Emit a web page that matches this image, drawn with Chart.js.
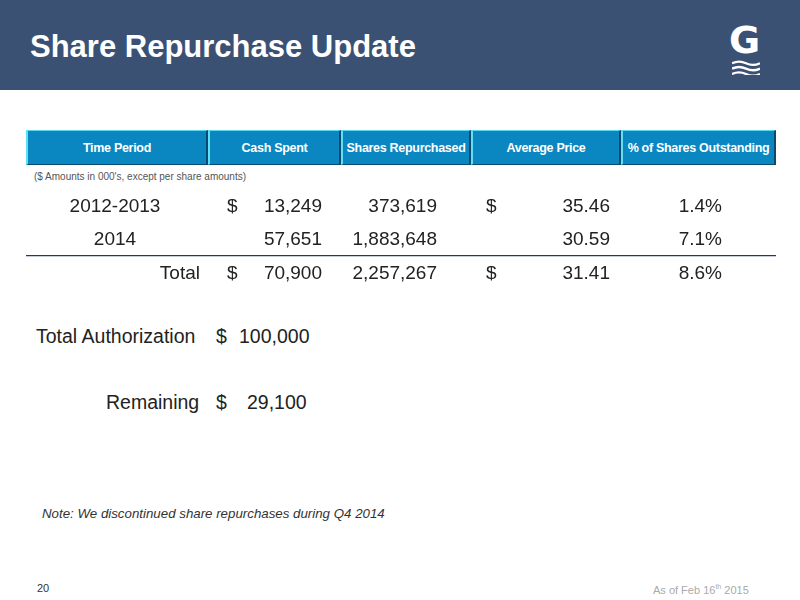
<!DOCTYPE html>
<html>
<head>
<meta charset="utf-8">
<script src="https://cdn.jsdelivr.net/npm/chart.js@4.4.1/dist/chart.umd.min.js"></script>
<style>
body { margin:0; width:800px; height:600px; position:relative; background:#fff; font-family:"Liberation Sans", Arial, sans-serif; overflow:hidden; }
.bar { position:absolute; left:0; top:0; width:800px; height:90px; background:#3b5173; }
.title { position:absolute; left:30px; top:29px; color:#fff; font-size:31px; font-weight:bold; }
.logo { position:absolute; left:729px; top:18px; color:#fff; font-size:38px; font-weight:bold; font-family:"DejaVu Sans"; }
.waves { position:absolute; left:732px; top:60px; width:28px; }
.hdr { position:absolute; top:130px; height:35px; display:flex; left:26px; }
.hdr div { background:#0a87c0; color:#fff; font-weight:bold; font-size:12.5px; letter-spacing:-0.3px; white-space:nowrap; display:flex; align-items:center; justify-content:center;
  box-sizing:border-box; border-left:2px solid #5fe0f5; border-top:1px solid #5fd6f0; border-right:2px solid #0a4a70; border-bottom:1px solid #0a4a70; }
.txt { position:absolute; font-size:19.5px; color:#222; }
.small { position:absolute; left:34px; top:171px; font-size:10px; color:#555; }
#wrap { position:absolute; left:26px; top:190px; width:750px; height:100px; }
</style>
</head>
<body>
<div class="bar"></div>
<div class="title">Share Repurchase Update</div>
<div class="logo">G</div>
<svg class="waves" viewBox="0 0 26 14"><path d="M0 3 Q6.5 0 13 3 T26 3 M0 8 Q6.5 5 13 8 T26 8 M0 13 Q6.5 10 13 13 T26 13" stroke="#fff" stroke-width="2.2" fill="none"/></svg>
<div class="hdr">
  <div style="width:182px">Time Period</div>
  <div style="width:133px">Cash Spent</div>
  <div style="width:130px">Shares Repurchased</div>
  <div style="width:150px">Average Price</div>
  <div style="width:155px">% of Shares Outstanding</div>
</div>
<div class="small">($ Amounts in 000's, except per share amounts)</div>
<div id="wrap"><canvas id="tbl"></canvas></div>
<div class="txt" style="left:36px;top:325px">Total Authorization</div>
<div class="txt" style="left:216px;top:325px">$</div>
<div class="txt" style="left:239px;top:325px">100,000</div>
<div class="txt" style="left:106px;top:391px">Remaining</div>
<div class="txt" style="left:216px;top:391px">$</div>
<div class="txt" style="left:247px;top:391px">29,100</div>
<div class="txt" style="left:42px;top:506px;font-size:13.3px;font-style:italic;color:#333">Note: We discontinued share repurchases during Q4 2014</div>
<div class="txt" style="left:37px;top:582px;font-size:11px;color:#333">20</div>
<div class="txt" style="left:653px;top:583px;font-size:11px;color:#aaa">As of Feb 16<sup style="font-size:7px">th</sup> 2015</div>
<script>
const columns = ['Time Period', 'Cash Spent', 'Shares Repurchased', 'Average Price', '% of Shares Outstanding'];
const rows = ['2012-2013', '2014', 'Total'];
const cashSpent = [13249, 57651, 70900];
const sharesRepurchased = [373619, 1883648, 2257267];
const averagePrice = [35.46, 30.59, 31.41];
const pctOutstanding = [1.4, 7.1, 8.6];
const showDollar = [true, false, true];

const fmt = n => n.toLocaleString('en-US');

const tablePlugin = {
  id: 'tableCells',
  afterDraw(chart) {
    const ctx = chart.ctx, xs = chart.scales.x, ys = chart.scales.y;
    ctx.save();
    ctx.font = '19px "Liberation Sans", Arial, sans-serif';
    ctx.fillStyle = '#222';
    ctx.textBaseline = 'middle';
    const cx = i => xs.getPixelForValue(i);
    rows.forEach((r, i) => {
      const y = ys.getPixelForValue(i);
      if (r === 'Total') { ctx.textAlign = 'right'; ctx.fillText(r, cx(0) + 99, y); }
      else { ctx.textAlign = 'center'; ctx.fillText(r, cx(0) + 14, y); }
      ctx.textAlign = 'left';
      if (showDollar[i]) { ctx.fillText('$', cx(1) - 24, y); ctx.fillText('$', cx(3) - 65, y); }
      ctx.textAlign = 'right';
      ctx.fillText(fmt(cashSpent[i]), cx(1) + 71, y);
      ctx.fillText(fmt(sharesRepurchased[i]), cx(2) + 36, y);
      ctx.fillText(averagePrice[i].toFixed(2), cx(3) + 59, y);
      ctx.fillText(pctOutstanding[i].toFixed(1) + '%', cx(4) + 21, y);
    });
    // rule above the Total row
    const yl = (ys.getPixelForValue(1) + ys.getPixelForValue(2)) / 2 - 1;
    ctx.strokeStyle = '#1f3a66';
    ctx.lineWidth = 1.2;
    ctx.beginPath(); ctx.moveTo(chart.chartArea.left - 8, yl); ctx.lineTo(chart.chartArea.right, yl); ctx.stroke();
    ctx.restore();
  }
};

new Chart(document.getElementById('tbl'), {
  type: 'bar',
  data: { labels: columns, datasets: [{ data: [] }] },
  options: {
    responsive: true, maintainAspectRatio: false, animation: false,
    layout: { padding: 0 },
    plugins: { legend: { display: false }, tooltip: { enabled: false } },
    scales: {
      x: { type: 'category', labels: columns, display: false },
      y: { type: 'category', labels: rows, display: false, offset: true }
    }
  },
  plugins: [tablePlugin]
});
</script>
</body>
</html>
